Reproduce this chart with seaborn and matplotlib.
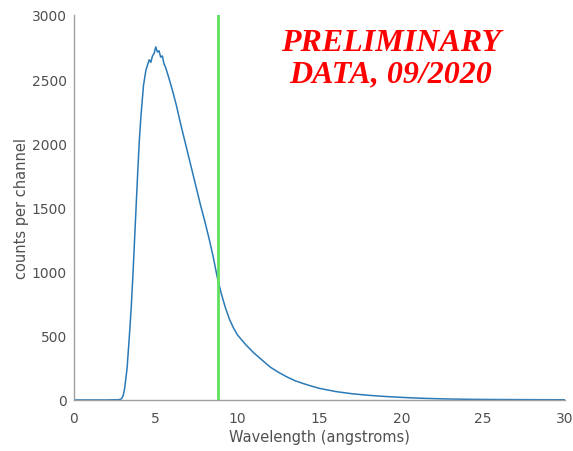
import numpy as np
import pandas as pd
import matplotlib
matplotlib.use("Agg")
import matplotlib.pyplot as plt
import seaborn as sns

# ── data (wavelength in angstroms, counts per channel) ──
wavelength = [0.0, 1.0, 2.0, 2.75, 2.9, 3.0, 3.1, 3.25, 3.4, 3.5, 3.6, 3.75,
              3.9, 4.0, 4.1, 4.25, 4.4, 4.5, 4.6, 4.7, 4.8, 4.9, 5.0, 5.1,
              5.2, 5.3, 5.4, 5.5, 5.6, 5.75, 6.0, 6.25, 6.5, 6.75, 7.0, 7.25,
              7.5, 7.75, 8.0, 8.25, 8.5, 8.75, 9.0, 9.25, 9.5, 9.75, 10.0,
              10.5, 11.0, 11.5, 12.0, 12.5, 13.0, 13.5, 14.0, 14.5, 15.0,
              16.0, 17.0, 18.0, 19.0, 20.0, 21.0, 22.0, 23.0, 24.0, 25.0,
              26.0, 28.0, 30.0]
counts = [0, 0, 0, 2, 8, 30, 90, 250, 520, 720, 960, 1370,
          1780, 2030, 2220, 2450, 2570, 2610, 2650, 2630, 2680, 2700, 2750, 2710,
          2720, 2670, 2680, 2620, 2590, 2530, 2420, 2300, 2160, 2030, 1900, 1770,
          1640, 1510, 1390, 1260, 1120, 960, 830, 720, 630, 560, 505,
          430, 365, 310, 255, 215, 180, 150, 128, 108, 90,
          65, 48, 36, 27, 20, 14, 10, 7, 5, 4,
          3, 2, 1]

cutoff = 8.8
stamp = "PRELIMINARY\nDATA, 09/2020"

df = pd.DataFrame({"wavelength": wavelength, "counts": counts})

sns.set_style("white")
plt.rcParams["font.family"] = ["DejaVu Sans"]

fig = plt.figure(figsize=(5.73, 4.52), dpi=100)
ax = fig.add_axes([0.129, 0.113, 0.857, 0.852])

sns.lineplot(data=df, x="wavelength", y="counts", ax=ax,
             color="#2a7ab8", lw=1.1)
ax.axvline(cutoff, color="#5fe05f", lw=2)

ax.set_xlim(0, 30)
ax.set_ylim(0, 3000)
ax.set_xticks(range(0, 31, 5))
ax.set_yticks(range(0, 3001, 500))
ax.set_xlabel("Wavelength (angstroms)", color="#505050", fontsize=10.5,
              labelpad=3)
ax.set_ylabel("counts per channel", color="#505050", fontsize=10.5,
              labelpad=2)

for side in ("top", "right"):
    ax.spines[side].set_visible(False)
for side in ("left", "bottom"):
    ax.spines[side].set_color("#a0a0a0")
    ax.spines[side].set_linewidth(1.0)
ax.tick_params(axis="x", direction="in", length=3, colors="#a0a0a0",
               labelcolor="#505050", labelsize=10, pad=8)
ax.tick_params(axis="y", direction="out", length=3, colors="#a0a0a0",
               labelcolor="#505050", labelsize=10, pad=2)

ax.text(0.645, 0.965, stamp, transform=ax.transAxes, ha="center", va="top",
        color="#ff0000", fontsize=23, fontweight="bold", fontstyle="italic",
        family=["Liberation Serif"], linespacing=1.1)

fig.savefig("out.png", dpi=100)
